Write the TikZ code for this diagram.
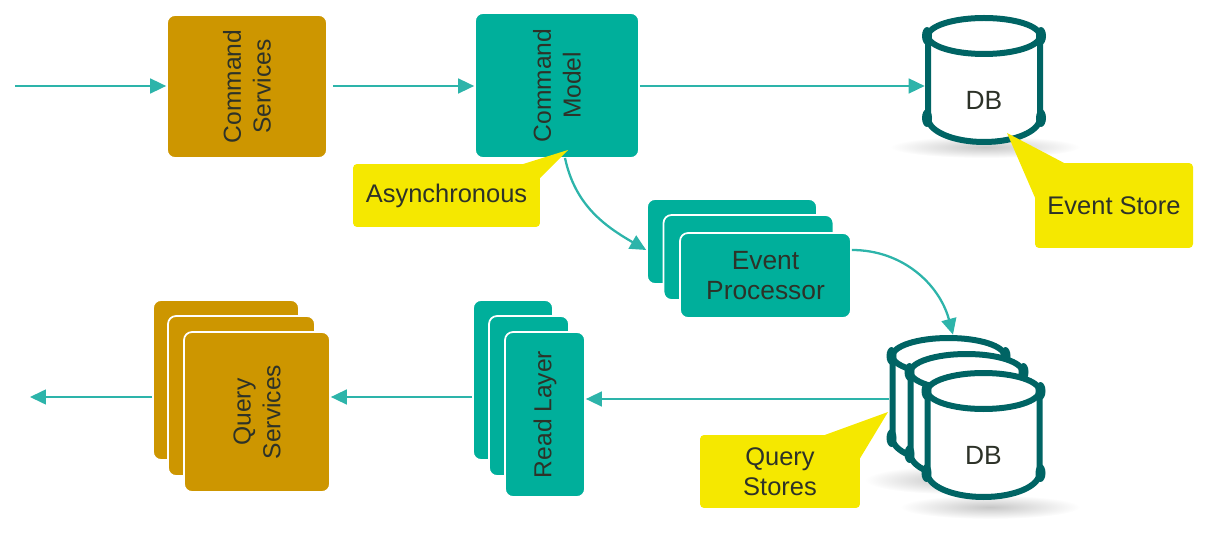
\documentclass[tikz,border=0pt]{standalone}
\usepackage{fontspec}
\setmainfont{Liberation Sans}
\usetikzlibrary{arrows.meta}
\definecolor{tealbox}{RGB}{0,175,155}
\definecolor{tealline}{RGB}{45,180,170}
\definecolor{tealdark}{RGB}{0,100,100}
\definecolor{ochrebox}{RGB}{205,150,0}
\definecolor{notefill}{RGB}{245,232,0}
\definecolor{labeltext}{RGB}{45,50,40}
\tikzset{
  box/.style={draw=white,line width=1pt,rounded corners=0.16cm,inner sep=0pt,align=center,
    text=labeltext,font=\fontsize{15}{17}\selectfont},
  sidebox/.style={box,rotate=90,font=\fontsize{14}{17}\selectfont},
  tealnode/.style={fill=tealbox},
  ochrenode/.style={fill=ochrebox},
  drumline/.style={draw=tealdark,line width=0.12cm,fill=white},
  drumlabel/.style={inner sep=0pt,minimum width=2.36cm,minimum height=2.6cm,text=labeltext,
    font=\fontsize{15}{17}\selectfont},
  note/.style={fill=notefill,rounded corners=0.08cm,inner sep=0pt,align=center,
    text=labeltext,font=\fontsize{14.5}{17}\selectfont},
  notetip/.style={fill=notefill},
  flow/.style={draw=tealline,line width=0.9pt,-{Triangle[length=0.32cm,width=0.3cm]}},
  bentflow/.style={flow,line width=1.3pt},
  groundshade/.style={inner color=black!22,outer color=white}
}
% drum: name, x, y, text
\newcommand{\dbdrum}[4]{
  \begin{scope}[shift={(#2,#3)}]
    \draw[drumline] (-56,-44) -- (-56,38) arc (180:0:56 and 24) -- (56,-44);
    \draw[drumline] (0,-44) ellipse (56 and 18);
    \fill[tealdark] (-57,-44) ellipse (5 and 9);
    \fill[tealdark] (57,-44) ellipse (5 and 9);
    \fill[tealdark] (-57,38) ellipse (5 and 9);
    \fill[tealdark] (57,38) ellipse (5 and 9);
  \end{scope}
  \node[drumlabel] (#1) at (#2,#3) {\raisebox{-0.6cm}[0pt][0pt]{#4}};
}
\begin{document}
\begin{tikzpicture}[x=0.02cm,y=-0.02cm]
\useasboundingbox (0,0) rectangle (1206,550);
% top row
\coordinate (inflow) at (15,86);
\node[sidebox,ochrenode,minimum width=2.86cm,minimum height=3.2cm] (cmdservices) at (247,86.5) {Command\\Services};
\node[sidebox,tealnode,minimum width=2.9cm,minimum height=3.28cm] (cmdmodel) at (557,85.5) {Command\\Model};
\shade[groundshade] (985,147) ellipse (95 and 11);
\dbdrum{eventdb}{984}{80}{DB}
\draw[flow] (inflow) -- (cmdservices.north |- inflow);
\draw[flow] ([xshift=0.1cm]cmdservices.south |- inflow) -- (cmdmodel.north |- inflow);
\draw[flow] (cmdmodel.south |- inflow) -- (eventdb.west |- inflow);
% event processor
\node[box,tealnode,minimum width=3.4cm,minimum height=1.7cm] (procback) at (732,241.5) {};
\node[box,tealnode,minimum width=3.4cm,minimum height=1.7cm] (procmid) at (748.5,257.5) {};
\node[box,tealnode,minimum width=3.42cm,minimum height=1.7cm] (procfront) at (765.5,275.5) {Event\\Processor};
\draw[bentflow] (565,158) to[out=-78,in=150] (procback.west |- 0,250);
% query stores
\shade[groundshade] (950,480) ellipse (85 and 14);
\shade[groundshade] (990,507) ellipse (90 and 12);
\dbdrum{dbback}{948.5}{400}{}
\dbdrum{dbmid}{966.5}{416}{}
\dbdrum{dbfront}{983.5}{435}{DB}
\draw[bentflow] (procfront.east |- 0,250) to[out=0,in=105] (dbback.north -| 953,0);
% bottom row
\node[sidebox,tealnode,minimum width=3.2cm,minimum height=1.6cm] (readback) at (513,380) {};
\node[sidebox,tealnode,minimum width=3.2cm,minimum height=1.6cm] (readmid) at (529,396) {};
\node[sidebox,tealnode,minimum width=3.3cm,minimum height=1.6cm] (readfront) at (545,414.5) {Read Layer};
\node[sidebox,ochrenode,minimum width=3.2cm,minimum height=2.92cm] (queryback) at (226,380) {};
\node[sidebox,ochrenode,minimum width=3.2cm,minimum height=2.94cm] (querymid) at (241.5,396) {};
\node[sidebox,ochrenode,minimum width=3.2cm,minimum height=2.92cm] (queryfront) at (257,412) {Query\\Services};
\coordinate (outflow) at (30,397);
\draw[flow] (dbback.west |- 0,399) -- (readfront.south |- 0,399);
\draw[flow] (readback.north |- 0,397) -- (queryfront.south |- 0,397);
\draw[flow] (queryback.north |- 0,397) -- (outflow);
% notes
\fill[notetip] (568,150) -- (520,165) -- (538,180) -- cycle;
\node[note,minimum width=3.74cm,minimum height=1.26cm] (asyncnote) at (446.5,195.5) {Asynchronous};
\fill[notetip] (1007,133) -- (1066,164) -- (1036,200) -- cycle;
\node[note,minimum width=3.16cm,minimum height=1.7cm] (storenote) at (1114,205.5) {Event Store};
\fill[notetip] (888,412) -- (822,436) -- (859,460) -- cycle;
\node[note,minimum width=3.2cm,minimum height=1.46cm] (querynote) at (780,471.5) {Query\\Stores};
\end{tikzpicture}
\end{document}
